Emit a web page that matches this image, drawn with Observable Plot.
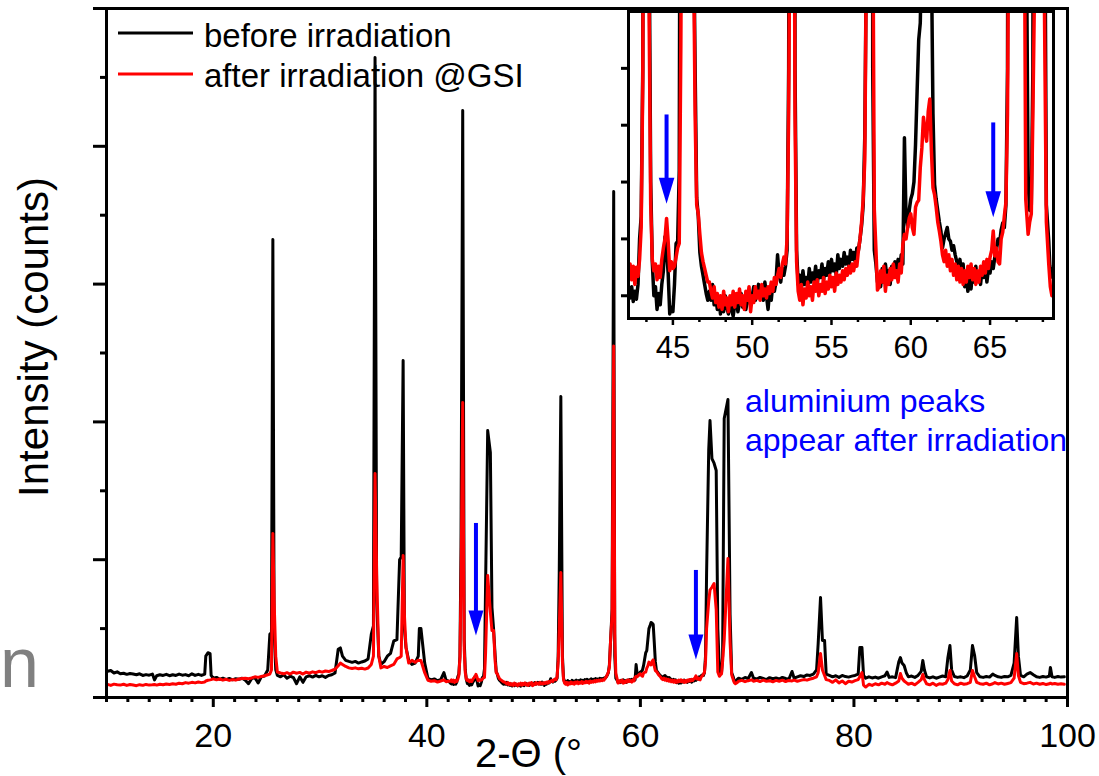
<!DOCTYPE html>
<html>
<head>
<meta charset="utf-8">
<script src="https://cdn.jsdelivr.net/npm/d3@7"></script>
<script src="https://cdn.jsdelivr.net/npm/@observablehq/plot@0.6"></script>
<style>
  html, body { margin: 0; padding: 0; background: #fff; }
  #chart { position: relative; width: 1099px; height: 776px; overflow: hidden; background: #fff; }
  #chart svg { position: absolute; overflow: visible; }
</style>
</head>
<body>
<div id="chart"></div>
<script>
// X-ray diffraction scan, 2-theta in degrees
const twoTheta = [
  10.1, 10.4, 10.7, 11.0, 11.3, 11.6, 11.9, 12.2, 12.5, 12.8, 13.1, 13.4, 13.7, 14.0, 14.3, 14.5, 14.7,
  15.0, 15.3, 15.6, 15.9, 16.2, 16.5, 16.8, 17.1, 17.4, 17.7, 18.0, 18.3, 18.6, 18.9, 19.2, 19.3, 19.5,
  19.7, 19.8, 20.0, 20.3, 20.6, 20.9, 21.2, 21.5, 21.8, 22.1, 22.4, 22.7, 23.0, 23.3, 23.6, 23.9, 24.2,
  24.5, 24.8, 25.1, 25.3, 25.45, 25.58, 25.7, 25.85, 26.0, 26.3, 26.6, 26.9, 27.2, 27.5, 27.8, 28.1,
  28.4, 28.7, 29.0, 29.3, 29.6, 29.9, 30.2, 30.5, 30.8, 31.1, 31.4, 31.7, 31.9, 32.1, 32.4, 32.7, 33.0,
  33.3, 33.6, 33.9, 34.2, 34.5, 34.8, 35.0, 35.15, 35.3, 35.5, 35.7, 36.0, 36.3, 36.6, 36.9, 37.2,
  37.45, 37.6, 37.78, 37.9, 38.05, 38.3, 38.6, 38.9, 39.2, 39.3, 39.45, 39.6, 39.8, 40.1, 40.4, 40.7,
  41.0, 41.3, 41.6, 41.8, 42.0,
  42.2, 42.3, 42.4, 42.5, 42.6, 42.7, 42.8, 42.9, 43.0, 43.1, 43.2, 43.36, 43.5, 43.6, 43.7, 43.8, 43.9,
  44.0, 44.1, 44.2, 44.3, 44.4, 44.5, 44.6, 44.7, 44.8, 44.9, 45.0, 45.1, 45.2, 45.3, 45.4, 45.5, 45.7,
  45.95, 46.1, 46.25, 46.4, 46.5, 46.6, 46.7, 46.8, 46.9, 47.0, 47.1, 47.2, 47.3, 47.4, 47.5, 47.6,
  47.7, 47.8, 47.9, 48.0, 48.1, 48.2, 48.3, 48.4, 48.5, 48.6, 48.7, 48.8, 48.9, 49.0, 49.1, 49.2, 49.3,
  49.4, 49.5, 49.6, 49.7, 49.8, 49.9, 50.0, 50.1, 50.2, 50.3, 50.4, 50.5, 50.6, 50.7, 50.8, 50.9, 51.0,
  51.1, 51.2, 51.3, 51.4, 51.5, 51.6, 51.7, 51.8, 51.9, 52.0, 52.1, 52.2, 52.3, 52.4, 52.55, 52.7, 52.8,
  52.9, 53.0, 53.1, 53.2, 53.3, 53.4, 53.5, 53.6, 53.7, 53.8, 53.9, 54.0, 54.1, 54.2, 54.3, 54.4, 54.5,
  54.6, 54.7, 54.8, 54.9, 55.0, 55.1, 55.2, 55.3, 55.4, 55.5, 55.6, 55.7, 55.8, 55.9, 56.0, 56.1, 56.2,
  56.3, 56.4, 56.5, 56.6, 56.7, 56.8, 56.9, 57.0, 57.1, 57.2, 57.35, 57.5, 57.6, 57.7, 57.8, 57.9, 58.0,
  58.1, 58.2, 58.3, 58.4, 58.5, 58.6, 58.7, 58.8, 58.9, 59.0, 59.1, 59.2, 59.3, 59.4, 59.5, 59.6, 59.7,
  59.8, 59.9, 60.0, 60.1, 60.2, 60.3, 60.4, 60.5, 60.6, 60.7, 60.8, 60.9, 61.0, 61.1, 61.2, 61.3, 61.4,
  61.5, 61.6, 61.7, 61.8, 61.9, 62.0, 62.1, 62.2, 62.3, 62.4, 62.5, 62.6, 62.7, 62.8, 62.9, 63.0, 63.1,
  63.2, 63.3, 63.4, 63.5, 63.6, 63.7, 63.8, 63.9, 64.0, 64.1, 64.2, 64.3, 64.4, 64.5, 64.6, 64.7, 64.8,
  64.9, 65.0, 65.1, 65.2, 65.3, 65.4, 65.5, 65.6, 65.7, 65.8, 65.9, 66.0, 66.1, 66.2, 66.4, 66.52, 66.7,
  66.9, 67.1, 67.25, 67.4, 67.5, 67.6, 67.7, 67.85, 68.2, 68.4, 68.55, 68.7, 68.8, 68.9, 69.0,
  69.2, 69.5, 69.8, 70.1, 70.4, 70.6, 70.9, 71.2, 71.5, 71.8, 72.1, 72.4, 72.7, 73.0, 73.3, 73.6, 73.9,
  74.2, 74.4, 74.7, 75.0, 75.3, 75.6, 75.9, 76.2, 76.5, 76.65, 76.87, 77.05, 77.25, 77.4, 77.7, 78.0,
  78.3, 78.6, 78.9, 79.2, 79.5, 79.8, 80.1, 80.4, 80.55, 80.75, 80.9, 81.1, 81.4, 81.7, 82.0, 82.3,
  82.6, 82.9, 83.1, 83.3, 83.6, 83.9, 84.2, 84.35, 84.5, 84.7, 84.9, 85.1, 85.4, 85.7, 86.0, 86.3,
  86.45, 86.6, 86.8, 87.1, 87.4, 87.7, 88.0, 88.3, 88.6, 88.8, 88.99, 89.15, 89.4, 89.7, 90.0, 90.3,
  90.6, 90.9, 91.1, 91.3, 91.5, 91.8, 92.1, 92.4, 92.7, 93.0, 93.2, 93.5, 93.8, 94.1, 94.4, 94.7, 95.0,
  95.24, 95.4, 95.6, 95.9, 96.2, 96.5, 96.8, 97.1, 97.4, 97.7, 98.0, 98.3, 98.4, 98.55, 98.8, 99.1,
  99.4, 99.7
];

// counts before irradiation
const countsBefore = [
  190, 196, 178, 186, 172, 176, 168, 174, 170, 165, 172, 160, 166, 162, 170, 128, 158,
  165, 160, 168, 158, 165, 160, 170, 162, 166, 158, 172, 160, 168, 160, 170, 300, 325,
  318, 160, 140, 146, 132, 140, 130, 138, 128, 136, 132, 140, 126, 100, 138, 144, 105,
  150, 156, 200, 460, 470, 3323, 480, 200, 160, 150, 165, 140, 155, 145, 100, 150,
  110, 150, 158, 148, 160, 150, 158, 146, 160, 165, 178, 350, 360, 300, 270, 262, 255,
  262, 250, 258, 265, 280, 460, 520, 4644, 700, 300, 240, 260, 300, 320, 410, 420,
  1000, 1020, 2446, 500, 363, 270, 240, 250, 300, 500, 500, 392, 250, 140, 128, 135,
  122, 130, 181, 126, 120,
  105, 98, 108, 95, 104, 97, 110, 150, 170, 300, 1100, 4260, 420, 200, 130, 100, 108,
  88, 102, 92, 110, 122, 152, 140, 120, 84, 90, 86, 110, 146, 148, 210, 800, 1937,
  1778, 653, 500, 300, 186, 170, 138, 126, 118, 110, 102, 96, 104, 96, 110, 92,
  100, 88, 98, 84, 94, 86, 100, 90, 84, 96, 88, 82, 92, 98, 86, 94, 102,
  90, 98, 88, 96, 104, 92, 100, 108, 96, 102, 110, 98, 106, 96, 112, 100, 88,
  104, 96, 110, 104, 112, 136, 118, 112, 124, 118, 126, 140, 300, 900, 2185, 300, 140,
  110, 118, 106, 122, 110, 116, 108, 124, 112, 120, 114, 126, 110, 122, 116, 128, 114,
  124, 118, 130, 120, 132, 122, 128, 118, 136, 124, 132, 126, 138, 128, 134, 126, 140,
  132, 138, 130, 142, 140, 150, 162, 180, 240, 400, 640, 3672, 300, 140, 128, 112, 118,
  108, 124, 112, 128, 116, 122, 110, 126, 118, 130, 120, 132, 124, 136, 128, 239, 170,
  160, 175, 185, 190, 200, 233, 280, 325, 340, 420, 500, 520, 544, 540, 530, 400, 260,
  198, 185, 175, 165, 157, 142, 150, 155, 160, 150, 148, 140, 144, 136, 130, 124, 132,
  120, 128, 108, 118, 104, 114, 106, 122, 112, 126, 114, 120, 110, 124, 116, 128, 112,
  124, 120, 130, 124, 134, 140, 150, 146, 158, 164, 160, 180, 300, 900, 1800, 2010, 1734,
  1700, 1647, 500, 200, 175, 180, 300, 2025, 2163, 600, 180, 148, 116, 120, 126,
  140, 132, 145, 138, 181, 140, 134, 146, 138, 130, 144, 136, 142, 134, 146, 138, 132,
  189, 140, 150, 158, 152, 164, 160, 170, 200, 392, 726, 414, 414, 170, 160, 150,
  158, 146, 160, 152, 148, 155, 160, 170, 363, 363, 160, 140, 150, 142, 148, 140,
  150, 158, 185, 146, 150, 144, 260, 290, 250, 232, 180, 150, 156, 146, 160, 190,
  268, 200, 150, 142, 150, 140, 148, 156, 150, 290, 377, 200, 152, 146, 150, 144,
  156, 200, 377, 305, 180, 150, 146, 152, 148, 170, 160, 150, 146, 152, 150, 160, 250,
  580, 300, 160, 150, 170, 181, 165, 150, 146, 152, 148, 156, 218, 150, 146, 152,
  148, 150
];

// counts after irradiation at GSI
const countsAfter = [
  95, 88, 97, 92, 90, 96, 88, 94, 90, 86, 93, 88, 95, 90, 92, 94, 90,
  96, 92, 98, 95, 100, 96, 104, 100, 108, 104, 110, 106, 112, 108, 112, 120, 125,
  128, 130, 135, 128, 134, 126, 132, 124, 130, 126, 134, 138, 140, 136, 142, 150, 146,
  152, 158, 165, 170, 200, 1190, 700, 300, 185, 178, 172, 180, 170, 184, 176, 182,
  170, 184, 176, 186, 180, 190, 184, 192, 188, 196, 205, 230, 250, 240, 225, 215, 210,
  215, 208, 212, 206, 214, 240, 300, 1625, 900, 300, 215, 225, 218, 230, 240, 280,
  290, 300, 1030, 600, 363, 250, 270, 255, 270, 268, 268, 230, 180, 125, 118, 122,
  112, 120, 128, 115, 118,
  118, 128, 114, 126, 110, 125, 117, 132, 160, 290, 800, 2140, 350, 180, 132, 122, 128,
  114, 126, 116, 132, 142, 150, 168, 148, 122, 130, 124, 126, 134, 142, 146, 320, 885,
  620, 486, 486, 260, 180, 172, 154, 138, 130, 124, 118, 112, 112, 104, 98, 108,
  94, 102, 90, 100, 88, 104, 92, 98, 86, 100, 92, 104, 90, 102, 94, 106, 92,
  100, 88, 104, 96, 108, 86, 100, 94, 108, 98, 104, 96, 110, 100, 106, 98, 108,
  102, 112, 104, 116, 110, 118, 124, 116, 128, 134, 128, 150, 260, 500, 907, 260, 130,
  104, 96, 110, 92, 106, 98, 112, 100, 108, 96, 112, 104, 114, 100, 110, 104, 116,
  102, 112, 106, 118, 108, 116, 104, 120, 110, 118, 112, 122, 114, 124, 118, 126, 120,
  128, 122, 130, 126, 140, 150, 165, 185, 220, 400, 600, 2550, 464, 176, 142, 105, 108,
  122, 112, 126, 104, 118, 110, 124, 114, 128, 116, 122, 112, 128, 120, 145, 154, 150,
  160, 168, 172, 160, 154, 178, 182, 184, 213, 230, 257, 245, 236, 262, 273, 228, 195,
  189, 178, 165, 157, 148, 136, 130, 140, 126, 136, 122, 132, 118, 128, 114, 126, 112,
  124, 110, 122, 112, 126, 116, 128, 114, 124, 110, 122, 112, 126, 118, 130, 120, 132,
  124, 134, 140, 157, 135, 142, 130, 128, 150, 156, 170, 182, 260, 500, 700, 780, 800,
  827, 640, 185, 154, 165, 172, 260, 420, 1009, 400, 165, 128, 108, 100, 105,
  118, 124, 115, 122, 128, 118, 124, 116, 126, 118, 122, 114, 124, 118, 126, 116, 124,
  120, 126, 118, 124, 130, 126, 134, 140, 150, 180, 319, 200, 160, 130, 124, 110,
  128, 106, 120, 100, 118, 112, 122, 130, 150, 181, 90, 76, 96, 88, 100, 92,
  104, 96, 108, 100, 92, 104, 120, 174, 140, 120, 108, 96, 104, 92, 110, 130,
  167, 130, 100, 92, 104, 88, 100, 96, 104, 130, 196, 120, 100, 92, 104, 96,
  100, 110, 196, 150, 110, 100, 96, 104, 92, 100, 108, 98, 104, 96, 102, 108, 140,
  319, 160, 110, 100, 104, 110, 98, 104, 96, 102, 94, 100, 104, 98, 102, 96,
  100, 96
];

// axis ticks
const xMajorTicks = [20, 40, 60, 80, 100];
const xMinorTicks = [10, 12, 14, 16, 18, 22, 24, 26, 28, 30, 32, 34, 36, 38, 42, 44, 46, 48, 50, 52, 54, 56, 58,
  62, 64, 66, 68, 70, 72, 74, 76, 78, 82, 84, 86, 88, 90, 92, 94, 96, 98];
const yMajorTicks = [0, 1000, 2000, 3000, 4000, 5000];
const yMinorTicks = [500, 1500, 2500, 3500, 4500];
const insetMajorTicks = [45, 50, 55, 60, 65];
const insetMinorTicks = [43.33, 46.67, 48.33, 51.67, 53.33, 56.67, 58.33, 61.67, 63.33, 66.67, 68.33];
const insetYTicks = [100, 150, 200, 250, 300];

// aluminium reflections marked by arrows
const arrowTheta = [44.6, 65.2];
const arrowTopMain = [1263, 922];
const arrowTipMain = [450, 276];
const arrowTopInset = [259, 252];
const arrowTipInset = [181, 169];

const legendLabels = ["before irradiation", "after irradiation @GSI"];
const legendColors = ["#000000", "#ff0000"];
const noteText = "aluminium peaks\nappear after irradiation";
const noteAnchor = [69.8, 1792];

const FONT = '"Liberation Sans", Arial, Helvetica, sans-serif';
const BLUE = "#0000ff";

const scan = twoTheta.map((t, i) => ({t, before: countsBefore[i], after: countsAfter[i]}));
const arrows = arrowTheta.map((t, i) => ({
  t, topMain: arrowTopMain[i], tipMain: arrowTipMain[i], topInset: arrowTopInset[i], tipInset: arrowTipInset[i]
}));

// filled arrow head, tip at the anchor point, pointing down
const arrowHead = {
  draw(context, size) {
    const h = Math.sqrt(size / Math.PI);
    const w = h * 0.3;
    context.moveTo(0, 0);
    context.lineTo(-w, -h);
    context.lineTo(w, -h);
    context.closePath();
  }
};

const blank = () => "";
const chart = document.getElementById("chart");

const main = Plot.plot({
  width: 1099,
  height: 776,
  marginLeft: 106,
  marginRight: 32,
  marginTop: 8,
  marginBottom: 79,
  style: {fontFamily: FONT, color: "#000", background: "transparent"},
  x: {domain: [10, 100]},
  y: {domain: [0, 5000]},
  marks: [
    Plot.line(scan, {x: "t", y: "before", stroke: "#000000", strokeWidth: 3, clip: true}),
    Plot.line(scan, {x: "t", y: "after", stroke: "#ff0000", strokeWidth: 3, clip: true}),
    Plot.ruleX(arrows, {x: "t", y1: "topMain", y2: "tipMain", stroke: BLUE, strokeWidth: 4, insetBottom: 18}),
    Plot.dot(arrows, {x: "t", y: "tipMain", r: 25, symbol: arrowHead, fill: BLUE, stroke: "none"}),
    Plot.text([noteText], {x: () => noteAnchor[0], y: () => noteAnchor[1], text: d => d, textAnchor: "start",
      lineAnchor: "bottom", lineHeight: 1.19, fontSize: 32, fill: BLUE}),
    Plot.axisX({ticks: xMinorTicks, tickSize: 5, strokeWidth: 3, tickFormat: blank, label: null}),
    Plot.axisX({ticks: xMajorTicks, tickSize: 10, strokeWidth: 3, tickPadding: 15, fontSize: 34, label: null}),
    Plot.axisY({ticks: yMinorTicks, tickSize: 6, strokeWidth: 3, tickFormat: blank, label: null}),
    Plot.axisY({ticks: yMajorTicks, tickSize: 13, strokeWidth: 3, tickFormat: blank, label: null}),
    Plot.frame({stroke: "#000", strokeWidth: 3})
  ]
});
main.style.left = "0px";
main.style.top = "0px";
chart.appendChild(main);

// zoomed view of the 42–69° range
const inset = Plot.plot({
  width: 463,
  height: 363,
  marginLeft: 28,
  marginRight: 10,
  marginTop: 11,
  marginBottom: 45,
  style: {fontFamily: FONT, color: "#000", background: "transparent"},
  x: {domain: [42.2, 69]},
  y: {domain: [80, 350]},
  marks: [
    Plot.frame({fill: "#ffffff"}),
    Plot.line(scan, {x: "t", y: "before", stroke: "#000000", strokeWidth: 3.5, clip: true}),
    Plot.line(scan, {x: "t", y: "after", stroke: "#ff0000", strokeWidth: 3.5, clip: true}),
    Plot.ruleX(arrows, {x: "t", y1: "topInset", y2: "tipInset", stroke: BLUE, strokeWidth: 4, insetBottom: 18}),
    Plot.dot(arrows, {x: "t", y: "tipInset", r: 26, symbol: arrowHead, fill: BLUE, stroke: "none"}),
    Plot.axisX({ticks: insetMinorTicks, tickSize: 4, strokeWidth: 2.5, tickFormat: blank, label: null}),
    Plot.axisX({ticks: insetMajorTicks, tickSize: 7, strokeWidth: 2.5, tickPadding: 10, fontSize: 31, label: null}),
    Plot.axisY({ticks: insetYTicks, tickSize: 7, strokeWidth: 3, tickFormat: blank, label: null}),
    Plot.frame({stroke: "#000", strokeWidth: 3})
  ]
});
inset.style.left = "600px";
inset.style.top = "0px";
chart.appendChild(inset);

// legend and axis titles
const overlay = d3.create("svg")
  .attr("width", 1099)
  .attr("height", 776)
  .style("left", "0px")
  .style("top", "0px")
  .style("font-family", FONT);

const legend = overlay.append("g");
legendLabels.forEach((label, i) => {
  const lineY = 33 + i * 41;
  legend.append("line")
    .attr("x1", 118).attr("x2", 193)
    .attr("y1", lineY).attr("y2", lineY)
    .attr("stroke", legendColors[i]).attr("stroke-width", 3);
  legend.append("text")
    .attr("x", 204).attr("y", 47 + i * 39.5)
    .attr("font-size", 33).attr("fill", "#000")
    .text(label);
});

overlay.append("text")
  .attr("transform", "translate(48,337) rotate(-90)")
  .attr("text-anchor", "middle")
  .attr("font-size", 42)
  .attr("fill", "#000")
  .text("Intensity (counts)");

overlay.append("text")
  .attr("x", 475).attr("y", 767)
  .attr("font-size", 40)
  .attr("fill", "#000")
  .text("2-\u0398 (\u00b0");

overlay.append("text")
  .attr("x", 0).attr("y", 687)
  .attr("font-size", 70)
  .attr("fill", "#808080")
  .text("n");

chart.appendChild(overlay.node());
</script>
</body>
</html>
